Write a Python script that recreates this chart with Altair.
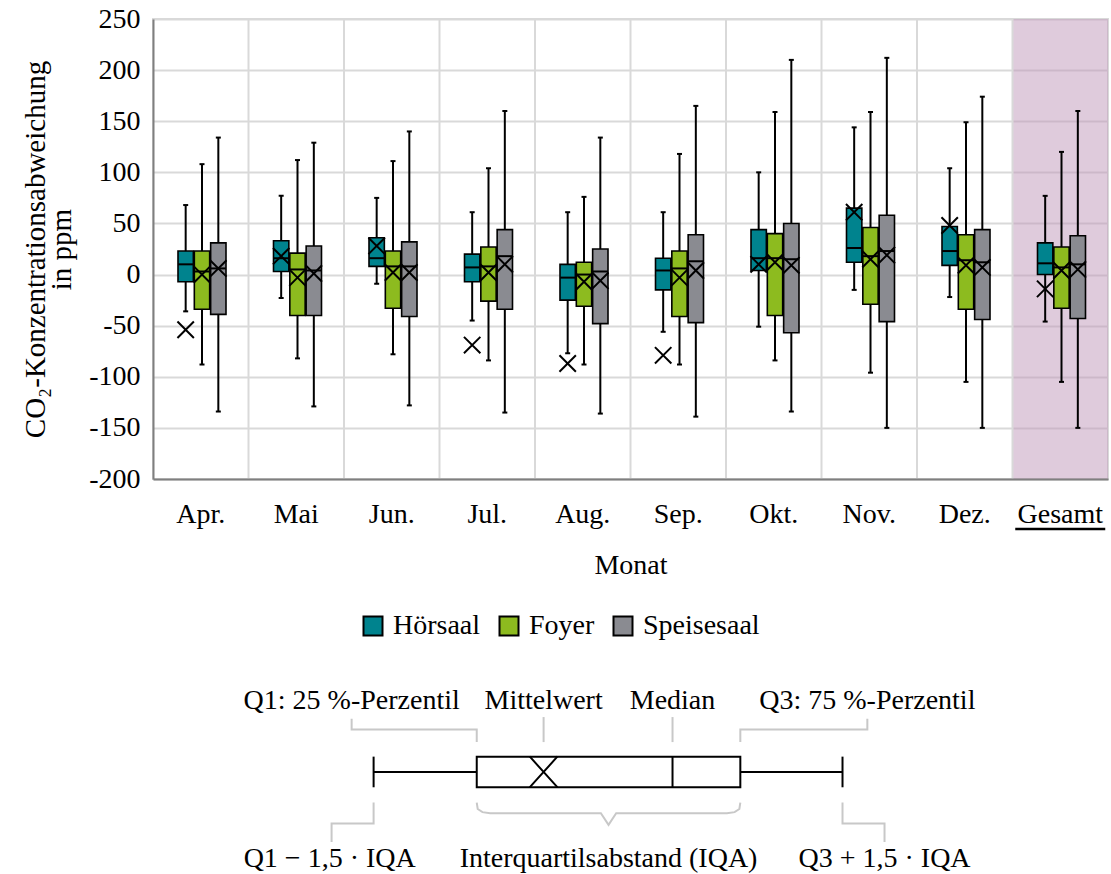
import altair as alt
import pandas as pd

FONT = "Liberation Serif"
FS = 28

months = ["Apr.", "Mai", "Jun.", "Jul.", "Aug.", "Sep.", "Okt.", "Nov.", "Dez.", "Gesamt"]
rooms = ["Hörsaal", "Foyer", "Speisesaal"]
room_colors = ["#00838e", "#8dbb1f", "#8a8b91"]

hoersaal_min = [-36, -23, -9, -45, -77, -56, -51, -15, -22, -46]
hoersaal_q1 = [-7, 3, 8, -7, -25, -15, 4, 12, 9, 0]
hoersaal_median = [10, 16, 16, 7, -3, 4, 16, 26, 23, 11]
hoersaal_q3 = [23, 33, 36, 20, 10, 16, 44, 65, 47, 31]
hoersaal_max = [68, 77, 75, 61, 61, 61, 100, 144, 104, 77]
hoersaal_mean = [-54, 18, 28, -69, -87, -79, 10, 61, 48, -14]

foyer_min = [-88, -82, -78, -84, -88, -88, -84, -96, -105, -105]
foyer_q1 = [-34, -40, -33, -26, -31, -41, -40, -29, -34, -33]
foyer_median = [3, 5, 8, 8, 0, 6, 16, 18, 14, 7]
foyer_q3 = [23, 21, 23, 27, 12, 23, 40, 46, 39, 27]
foyer_max = [108, 112, 111, 104, 76, 118, 159, 159, 149, 120]
foyer_mean = [0, -3, 2, 2, -7, -3, 12, 15, 9, 4]

speise_min = [-134, -129, -128, -135, -136, -139, -134, -150, -150, -150]
speise_q1 = [-39, -40, -41, -34, -48, -47, -57, -46, -44, -43]
speise_median = [6, 4, 8, 18, 3, 13, 15, 23, 12, 10]
speise_q3 = [31, 28, 32, 44, 25, 39, 50, 58, 44, 38]
speise_max = [134, 129, 140, 160, 134, 165, 210, 212, 174, 160]
speise_mean = [6, 1, 2, 10, -6, 4, 9, 19, 7, 5]

y_ticks = [-200, -150, -100, -50, 0, 50, 100, 150, 200, 250]

# schematic (explanation) in abstract units 0..100
schema_low, schema_q1, schema_mean, schema_median, schema_q3, schema_high = 23.1, 33.9, 40.9, 54.4, 61.5, 72.2
schema_box_top, schema_box_bottom, schema_whisker_y = 60.5, 44.7, 52.6
top_labels = ["Q1: 25 %-Perzentil", "Mittelwert", "Median", "Q3: 75 %-Perzentil"]
top_label_x = [20.8, 40.9, 54.4, 74.8]
top_label_y = 89.0
bottom_labels = ["Q1 \u2212 1,5 \u00b7 IQA", "Interquartilsabstand (IQA)", "Q3 + 1,5 \u00b7 IQA"]
bottom_label_x = [18.5, 47.7, 76.6]
bottom_label_y = 7.5
connector_id = ["q1"] * 4 + ["mean"] * 2 + ["median"] * 2 + ["q3"] * 4 + ["lo"] * 4 + ["hi"] * 4 + ["brace"] * 11
connector_x = [20.8, 20.8, 33.9, 33.9,
               40.9, 40.9,
               54.4, 54.4,
               74.8, 74.8, 61.5, 61.5,
               23.1, 23.1, 18.7, 18.7,
               72.2, 72.2, 76.6, 76.6,
               33.9, 34.0, 34.5, 35.3, 46.9, 47.7, 48.5, 60.1, 60.9, 61.4, 61.5]
connector_y = [80.0, 74.5, 74.5, 68.0,
               80.9, 68.0,
               80.9, 68.0,
               80.0, 74.5, 74.5, 68.0,
               36.8, 26.0, 26.0, 16.5,
               36.8, 26.0, 26.0, 16.5,
               36.8, 33.5, 31.9, 31.3, 31.3, 25.3, 31.3, 31.3, 31.9, 33.5, 36.8]

# ---------------- main chart ----------------
rows = []
for room, mn, q1, md, q3, mx, me in [
    ("Hörsaal", hoersaal_min, hoersaal_q1, hoersaal_median, hoersaal_q3, hoersaal_max, hoersaal_mean),
    ("Foyer", foyer_min, foyer_q1, foyer_median, foyer_q3, foyer_max, foyer_mean),
    ("Speisesaal", speise_min, speise_q1, speise_median, speise_q3, speise_max, speise_mean),
]:
    for i, m in enumerate(months):
        rows.append(dict(month=m, room=room, lo=mn[i], q1=q1[i], median=md[i], q3=q3[i], hi=mx[i], mean=me[i]))
df = pd.DataFrame(rows)

x_scale = alt.Scale(domain=months, paddingInner=0, paddingOuter=0)
xo_scale = alt.Scale(domain=rooms, paddingInner=0.06, paddingOuter=0, range=[25, 73])
y_scale = alt.Scale(domain=[-200, 250], nice=False, zero=False)

x_axis = alt.Axis(labelAngle=0, ticks=False, grid=False, domainColor="#7f7f7f", domainWidth=2,
                  labelFont=FONT, labelFontSize=FS, labelColor="black", labelPadding=21,
                  title="Monat", titleFont=FONT, titleFontSize=FS, titleFontWeight="normal",
                  titleColor="black", titlePadding=23)
y_axis = alt.Axis(values=y_ticks, grid=True, gridColor="#d9d9d9", gridWidth=2, ticks=False,
                  domainColor="#7f7f7f", domainWidth=2, labelFont=FONT, labelFontSize=FS,
                  labelColor="black", labelPadding=13, labelExpr="toString(datum.value)",
                  title=["CO\u2082-Konzentrationsabweichung", "in ppm"], titleFont=FONT,
                  titleFontSize=29, titleFontWeight="normal", titleColor="black",
                  titlePadding=12, titleLineHeight=26)

X = alt.X("month:N", scale=x_scale, axis=x_axis, sort=months)
XO = alt.XOffset("room:N", scale=xo_scale, sort=rooms)

base = alt.Chart(df)

bg = alt.Chart(pd.DataFrame({"month": ["Gesamt"]})).mark_rect(color="#bf97b9", opacity=0.5).encode(
    x=X, y=alt.datum(250, scale=y_scale, axis=y_axis), y2=alt.datum(-200)
)
vgrid = alt.Chart(pd.DataFrame({"month": months[1:]})).mark_rule(color="#d9d9d9", strokeWidth=2).encode(
    x=alt.X("month:N", scale=x_scale, axis=x_axis, sort=months, bandPosition=0)
)
whisk = base.mark_rule(color="black", strokeWidth=2).encode(
    x=X, xOffset=XO, y=alt.Y("lo:Q", scale=y_scale, axis=y_axis), y2="hi:Q"
)
box = base.mark_bar(stroke="black", strokeWidth=1.6, opacity=1).encode(
    x=X, xOffset=XO, y=alt.Y("q1:Q", scale=y_scale, axis=y_axis), y2="q3:Q",
    color=alt.Color("room:N", scale=alt.Scale(domain=rooms, range=room_colors), sort=rooms,
                    legend=alt.Legend(title=None, orient="none", legendX=206, legendY=593,
                                      direction="horizontal", symbolType="square", symbolSize=361,
                                      symbolStrokeColor="black", symbolStrokeWidth=2, symbolOpacity=1,
                                      labelFont=FONT, labelFontSize=FS, labelColor="black",
                                      columnPadding=14, labelOffset=6))
)
med = base.mark_tick(color="black", thickness=2, size=15, opacity=1).encode(
    x=X, xOffset=XO, y=alt.Y("median:Q", scale=y_scale, axis=y_axis)
)
cap_lo = base.mark_tick(color="black", thickness=2, size=5, opacity=1).encode(
    x=X, xOffset=XO, y=alt.Y("lo:Q", scale=y_scale, axis=y_axis)
)
cap_hi = base.mark_tick(color="black", thickness=2, size=5, opacity=1).encode(
    x=X, xOffset=XO, y=alt.Y("hi:Q", scale=y_scale, axis=y_axis)
)
mean = base.mark_point(shape="M-1,-1L1,1M-1,1L1,-1", size=270, filled=False, color="black",
                       strokeWidth=2, opacity=1).encode(
    x=X, xOffset=XO, y=alt.Y("mean:Q", scale=y_scale, axis=y_axis)
)
underline = alt.Chart(pd.DataFrame({"month": ["Gesamt"]})).mark_tick(
    color="black", thickness=2.5, size=90, orient="horizontal", opacity=1).encode(
    x=X, y=alt.value(510)
)

main = alt.layer(bg, vgrid, whisk, box, med, cap_lo, cap_hi, mean, underline).properties(
    width=955, height=460, view=alt.ViewBackground(stroke="#d9d9d9", strokeWidth=2)
)

# ---------------- schematic ----------------
sx = alt.Scale(domain=[0, 100], nice=False, zero=False)
sy = alt.Scale(domain=[0, 100], nice=False, zero=False)

conn_df = pd.DataFrame({"id": connector_id, "x": connector_x, "y": connector_y,
                        "order": list(range(len(connector_x)))})
conn = alt.Chart(conn_df).mark_line(color="#c8c8c8", strokeWidth=2).encode(
    x=alt.X("x:Q", scale=sx, axis=None), y=alt.Y("y:Q", scale=sy, axis=None),
    detail="id:N", order="order:Q"
)
stat_df = pd.DataFrame({"low": [schema_low], "q1": [schema_q1], "mean": [schema_mean],
                        "median": [schema_median], "q3": [schema_q3], "high": [schema_high],
                        "top": [schema_box_top], "bottom": [schema_box_bottom], "wy": [schema_whisker_y]})
sb = alt.Chart(stat_df)
s_wl = sb.mark_rule(color="black", strokeWidth=2).encode(
    x=alt.X("low:Q", scale=sx, axis=None), x2="q1:Q", y=alt.Y("wy:Q", scale=sy, axis=None))
s_wh = sb.mark_rule(color="black", strokeWidth=2).encode(
    x=alt.X("q3:Q", scale=sx, axis=None), x2="high:Q", y=alt.Y("wy:Q", scale=sy, axis=None))
s_box = sb.mark_rect(fill="white", stroke="black", strokeWidth=2).encode(
    x=alt.X("q1:Q", scale=sx, axis=None), x2="q3:Q",
    y=alt.Y("top:Q", scale=sy, axis=None), y2="bottom:Q")
s_med = sb.mark_rule(color="black", strokeWidth=2).encode(
    x=alt.X("median:Q", scale=sx, axis=None), y=alt.Y("top:Q", scale=sy, axis=None), y2="bottom:Q")
s_cl = sb.mark_rule(color="black", strokeWidth=2).encode(
    x=alt.X("low:Q", scale=sx, axis=None), y=alt.Y("top:Q", scale=sy, axis=None), y2="bottom:Q")
s_ch = sb.mark_rule(color="black", strokeWidth=2).encode(
    x=alt.X("high:Q", scale=sx, axis=None), y=alt.Y("top:Q", scale=sy, axis=None), y2="bottom:Q")
s_mean = sb.mark_point(shape="M-0.9,-1L0.9,1M-0.9,1L0.9,-1", size=961, filled=False,
                       color="black", strokeWidth=2, opacity=1).encode(
    x=alt.X("mean:Q", scale=sx, axis=None), y=alt.Y("wy:Q", scale=sy, axis=None))

lab_df = pd.DataFrame({"text": top_labels + bottom_labels,
                       "x": top_label_x + bottom_label_x,
                       "y": [top_label_y] * len(top_labels) + [bottom_label_y] * len(bottom_labels)})
s_text = alt.Chart(lab_df).mark_text(font=FONT, fontSize=FS, color="black", align="center",
                                     baseline="middle").encode(
    x=alt.X("x:Q", scale=sx, axis=None), y=alt.Y("y:Q", scale=sy, axis=None), text="text:N")

schem = alt.layer(conn, s_wl, s_wh, s_box, s_med, s_cl, s_ch, s_mean, s_text).properties(
    width=955, height=194, view=alt.ViewBackground(stroke="transparent")
)

chart = alt.vconcat(main, schem, spacing=38).resolve_scale(
    x="independent", y="independent", color="independent"
).properties(
    padding={"left": 20, "top": 4, "right": 0, "bottom": 0}
).configure(font=FONT)

chart.save("out.html", embed_options={"renderer": "svg", "actions": False})
